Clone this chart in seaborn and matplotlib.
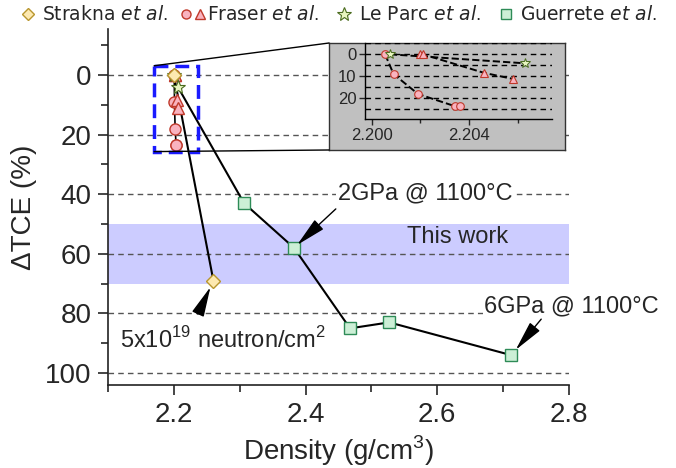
import numpy as np
import pandas as pd
import matplotlib
matplotlib.use("Agg")
import matplotlib.pyplot as plt
import seaborn as sns
from matplotlib.lines import Line2D
from matplotlib.patches import Rectangle, ConnectionPatch
from matplotlib.legend_handler import HandlerTuple
from matplotlib.ticker import MultipleLocator, FormatStrFormatter

# data
strakna_x = [2.200, 2.260]
strakna_y = [0.0, 69.0]
fraser_circ_x = [2.20055, 2.2009, 2.2019, 2.2034, 2.2036]
fraser_circ_y = [0.0, 9.0, 18.0, 23.5, 23.5]
fraser_tri_x = [2.2020, 2.2021, 2.2046, 2.2058]
fraser_tri_y = [0.0, 0.0, 8.4, 11.2]
leparc_x = [2.20075, 2.2063]
leparc_y = [0.0, 4.1]
# first point of the guerrete line starts at the le parc reference
guerrete_x = [2.2063, 2.3065, 2.3824, 2.4675, 2.527, 2.7124]
guerrete_y = [4.1, 43.0, 58.0, 85.0, 83.0, 94.0]

band = (50, 70)

sns.set_style("ticks")
plt.rcParams["font.family"] = ["Liberation Sans", "DejaVu Sans"]
plt.rcParams["mathtext.fontset"] = "custom"
plt.rcParams["mathtext.rm"] = "Liberation Sans"
plt.rcParams["mathtext.it"] = "DejaVu Sans:italic"

c_dia = dict(mfc="#fde9b0", mec="#b8962e")
c_pink = dict(mfc="#f9b3bf", mec="#c0392b")
c_star = dict(mfc="#e8f5c0", mec="#4a6b1f")
c_sq = dict(mfc="#ccefd6", mec="#2e8b57")

fig = plt.figure(figsize=(6.76, 4.68), dpi=100)
ax = fig.add_axes([0.1598, 0.1774, 0.6819, 0.7611])

ax.axhspan(band[0], band[1], color="#ccccff", lw=0, zorder=0.5)

# main lines
sns.lineplot(x=guerrete_x, y=guerrete_y, sort=False, estimator=None, color="black", lw=1.5, ax=ax, zorder=2)
sns.lineplot(x=strakna_x, y=strakna_y, sort=False, estimator=None, color="black", lw=1.5, ax=ax, zorder=2)
sns.lineplot(x=fraser_circ_x, y=fraser_circ_y, sort=False, estimator=None, color="black", lw=1.2, ax=ax, zorder=2)

# main markers
g = pd.DataFrame({"x": guerrete_x[1:], "y": guerrete_y[1:]})
ax.plot(g["x"], g["y"], ls="none", marker="s", ms=9, mew=1, zorder=3, **c_sq)
ax.plot(fraser_circ_x, fraser_circ_y, ls="none", marker="o", ms=8, mew=1, zorder=3, **c_pink)
ax.plot(fraser_tri_x, fraser_tri_y, ls="none", marker="^", ms=8.5, mew=1, zorder=3, **c_pink)
ax.plot(leparc_x, leparc_y, ls="none", marker="*", ms=10, mew=0.8, zorder=4, **c_star)
ax.plot(strakna_x, strakna_y, ls="none", marker="D", ms=7.5, mew=1, zorder=5, **c_dia)

ax.set_xlim(2.1, 2.8)
ax.set_ylim(104, -15.5)
ax.set_xticks([2.2, 2.4, 2.6, 2.8])
ax.xaxis.set_minor_locator(MultipleLocator(0.1))
ax.set_yticks([0, 20, 40, 60, 80, 100])
ax.yaxis.set_minor_locator(MultipleLocator(10))
ax.tick_params(which="major", direction="out", length=7, width=1.2, labelsize=20, pad=5)
ax.tick_params(which="minor", direction="out", length=5, width=1.2)
for s in ["top", "right"]:
    ax.spines[s].set_visible(False)
for s in ["left", "bottom"]:
    ax.spines[s].set_linewidth(1.2)
    ax.spines[s].set_color("#222222")
ax.grid(axis="y", which="major", ls=(0, (4, 3)), color="#555555", lw=1)
ax.set_xlabel("Density (g/cm$^3$)", fontsize=20, labelpad=4)
ax.set_ylabel("ΔTCE (%)", fontsize=20, labelpad=6)

# zoom box
zoom_box = Rectangle((2.170, -3.1), 0.066, 28.8, fill=False, ec="#1a1aff", lw=2.5,
                     ls=(0, (4, 2)), zorder=6)
ax.add_patch(zoom_box)

# annotations
arrow = dict(arrowstyle="-|>,head_length=0.85,head_width=0.18", color="black", lw=1, mutation_scale=22)
ax.text(2.581, 39.6, "2GPa @ 1100°C", fontsize=17, ha="center", va="center",
        bbox=dict(fc="white", ec="none", pad=1), zorder=4)
ax.annotate("", xy=(2.3824, 58.0), xytext=(2.449, 44.3),
            arrowprops=dict(arrow, shrinkB=3), zorder=4)
ax.text(2.631, 54.4, "This work", fontsize=17, ha="center", va="center", zorder=4)
ax.text(2.804, 77.7, "6GPa @ 1100°C", fontsize=17, ha="center", va="center",
        bbox=dict(fc="white", ec="none", pad=1), zorder=4, clip_on=False)
ax.annotate("", xy=(2.7124, 94.0), xytext=(2.7605, 81.2),
            arrowprops=dict(arrow, shrinkB=5), zorder=4)
ax.text(2.118, 89.0, "5x10$^{19}$ neutron/cm$^2$", fontsize=17, ha="left", va="center", zorder=4)
ax.annotate("", xy=(2.26, 69.0), xytext=(2.2347, 81.1),
            arrowprops=dict(arrow, shrinkB=5), zorder=4)

# inset panel
pan = fig.add_axes([0.4867, 0.6795, 0.3491, 0.2286])
pan.set_facecolor("#c0c0c0")
pan.set_xticks([])
pan.set_yticks([])
for s in pan.spines.values():
    s.set_color("#333333")
    s.set_linewidth(1)

ins = fig.add_axes([0.540, 0.745, 0.2766, 0.163])
ins.set_facecolor("none")
sns.lineplot(x=fraser_circ_x, y=fraser_circ_y, sort=False, estimator=None, color="black",
             lw=1.4, ls="--", ax=ins, zorder=2)
sns.lineplot(x=fraser_tri_x, y=fraser_tri_y, sort=False, estimator=None, color="black",
             lw=1.4, ls="--", ax=ins, zorder=2)
sns.lineplot(x=leparc_x, y=leparc_y, sort=False, estimator=None, color="black",
             lw=1.4, ls="--", ax=ins, zorder=2)
ins.plot(fraser_circ_x, fraser_circ_y, ls="none", marker="o", ms=5.5, mew=0.8, zorder=3, **c_pink)
ins.plot(fraser_tri_x, fraser_tri_y, ls="none", marker="^", ms=6, mew=0.8, zorder=3, **c_pink)
ins.plot(leparc_x, leparc_y, ls="none", marker="*", ms=7, mew=0.7, zorder=4, **c_star)
ins.set_xlim(2.19973, 2.20739)
ins.set_ylim(29.5, -5.1)
ins.set_xticks([2.200, 2.204])
ins.xaxis.set_major_formatter(FormatStrFormatter("%.3f"))
ins.xaxis.set_minor_locator(MultipleLocator(0.002))
ins.set_yticks([0, 10, 20])
ins.yaxis.set_minor_locator(MultipleLocator(5))
ins.tick_params(which="major", direction="out", length=4, width=1, labelsize=12, pad=2)
ins.tick_params(which="minor", direction="out", length=3, width=1)
ins.tick_params(axis="y", which="minor", length=0)
for s in ["top", "right"]:
    ins.spines[s].set_visible(False)
for s in ["left", "bottom"]:
    ins.spines[s].set_color("black")
    ins.spines[s].set_linewidth(1)
ins.grid(axis="y", which="both", ls=(0, (4, 3)), color="black", lw=1)
ins.set_xlabel("")
ins.set_ylabel("")

# zoom connector lines
for ya, yb in [(-3.1, 1), (25.7, 0)]:
    con = ConnectionPatch(xyA=(2.170, ya), coordsA=ax.transData, xyB=(0, yb), coordsB=pan.transAxes,
                          color="black", lw=1)
    fig.add_artist(con)

# legend
h_dia = Line2D([], [], ls="none", marker="D", ms=6, mew=1, **c_dia)
h_circ = Line2D([], [], ls="none", marker="o", ms=6.5, mew=1, **c_pink)
h_tri = Line2D([], [], ls="none", marker="^", ms=7.5, mew=1, **c_pink)
h_star = Line2D([], [], ls="none", marker="*", ms=10, mew=0.8, **c_star)
h_sq = Line2D([], [], ls="none", marker="s", ms=7.5, mew=1, **c_sq)
fig.legend([h_dia, (h_circ, h_tri), h_star, h_sq],
           [r"Strakna $et\ al.$", r"Fraser $et\ al.$", r"Le Parc $et\ al.$", r"Guerrete $et\ al.$"],
           handler_map={tuple: HandlerTuple(ndivide=None, pad=0.6)},
           loc="center", bbox_to_anchor=(0.5, 0.968), ncol=4, frameon=False,
           prop={"family": "DejaVu Sans", "size": 13.5}, handlelength=0.9, handletextpad=0.3,
           columnspacing=0.9, borderaxespad=0, borderpad=0)

fig.savefig("out.png", dpi=100)
